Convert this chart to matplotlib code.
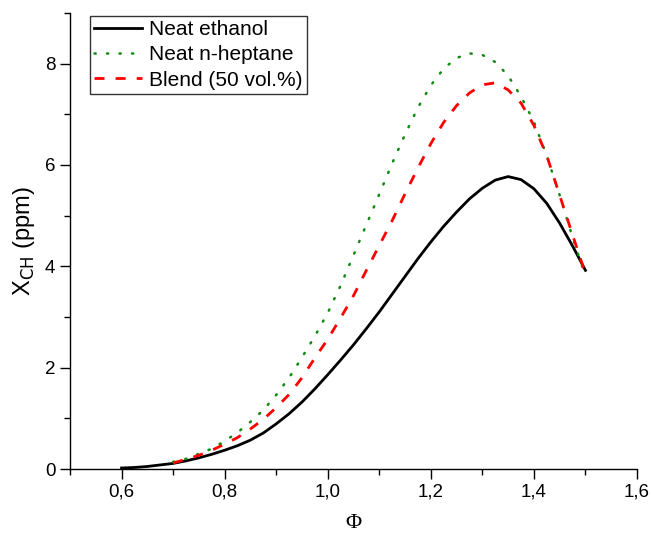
import matplotlib
matplotlib.use("Agg")
import matplotlib.pyplot as plt
from matplotlib.ticker import MultipleLocator, FuncFormatter

# equivalence ratio grids
phi_ethanol = [0.600, 0.625, 0.650, 0.675, 0.700, 0.725, 0.750, 0.775, 0.800,
               0.825, 0.850, 0.875, 0.900, 0.925, 0.950, 0.975, 1.000, 1.025,
               1.050, 1.075, 1.100, 1.125, 1.150, 1.175, 1.200, 1.225, 1.250,
               1.275, 1.300, 1.325, 1.350, 1.375, 1.400, 1.425, 1.450, 1.475,
               1.500]
phi_fuel = [0.700, 0.725, 0.750, 0.775, 0.800, 0.825, 0.850, 0.875, 0.900,
            0.925, 0.950, 0.975, 1.000, 1.025, 1.050, 1.075, 1.100, 1.125,
            1.150, 1.175, 1.200, 1.225, 1.250, 1.275, 1.300, 1.325, 1.350,
            1.375, 1.400, 1.425, 1.450, 1.475, 1.500]

# X_CH (ppm)
x_ethanol = [0.02, 0.03, 0.05, 0.08, 0.11, 0.16, 0.22, 0.29, 0.37,
             0.46, 0.57, 0.71, 0.89, 1.09, 1.32, 1.58, 1.86, 2.15,
             2.45, 2.77, 3.10, 3.45, 3.80, 4.15, 4.48, 4.79, 5.07,
             5.33, 5.54, 5.70, 5.77, 5.71, 5.53, 5.24, 4.85, 4.40,
             3.92]
x_heptane = [0.14, 0.20, 0.30, 0.40, 0.55, 0.72, 0.93, 1.16, 1.46,
             1.80, 2.20, 2.62, 3.08, 3.62, 4.22, 4.82, 5.42, 6.03,
             6.60, 7.13, 7.57, 7.90, 8.11, 8.20, 8.17, 8.03, 7.76,
             7.35, 6.85, 6.18, 5.40, 4.57, 3.80]
x_blend = [0.12, 0.19, 0.27, 0.37, 0.49, 0.62, 0.79, 0.98, 1.21,
           1.47, 1.80, 2.19, 2.56, 2.98, 3.42, 3.92, 4.41, 4.90,
           5.43, 5.94, 6.42, 6.84, 7.17, 7.42, 7.58, 7.62, 7.48,
           7.22, 6.78, 6.18, 5.40, 4.62, 3.85]

plt.rcParams['font.family'] = ['Liberation Sans', 'DejaVu Sans']


def comma(v, pos):
    return "{:.1f}".format(v).replace('.', ',')


def main():
    fig = plt.figure(figsize=(6.51, 5.36), dpi=100)
    ax = fig.add_axes([0.1075, 0.125, 0.871, 0.851])

    ax.plot(phi_ethanol, x_ethanol, color='black', lw=2.0,
            label='Neat ethanol')
    ax.plot(phi_fuel, x_heptane, color='#108a10', lw=1.8,
            linestyle=(0, (0.5, 4.5)), dash_capstyle='round',
            label='Neat n-heptane')
    ax.plot(phi_fuel, x_blend, color='#ff0000', lw=2.0,
            linestyle=(0, (3.6, 4.0)), label='Blend (50 vol.%)')

    ax.set_xlim(0.5, 1.6)
    ax.set_ylim(0, 9)
    ax.xaxis.set_major_locator(MultipleLocator(0.2))
    ax.xaxis.set_minor_locator(MultipleLocator(0.1))
    ax.yaxis.set_major_locator(MultipleLocator(2))
    ax.yaxis.set_minor_locator(MultipleLocator(1))
    ax.xaxis.set_major_formatter(FuncFormatter(comma))
    ax.set_xticks([0.6, 0.8, 1.0, 1.2, 1.4, 1.6])

    for side in ('top', 'right'):
        ax.spines[side].set_visible(False)
    for side in ('left', 'bottom'):
        ax.spines[side].set_linewidth(1.0)
    ax.tick_params(which='major', direction='out', length=7, width=1.0,
                   labelsize=13.5)
    ax.tick_params(which='minor', direction='out', length=4, width=1.0)

    ax.set_ylabel(r'X$_{\mathrm{CH}}$ (ppm)', fontsize=17, labelpad=6)
    ax.set_xlabel('Φ', fontsize=16, family='Liberation Serif', labelpad=10)

    leg = ax.legend(loc='upper left', bbox_to_anchor=(0.03, 1.0),
                    fontsize=15, frameon=True, fancybox=False,
                    edgecolor='black', handlelength=2.3, handletextpad=0.33,
                    borderpad=0.2, labelspacing=0.3, borderaxespad=0.15)
    leg.get_frame().set_linewidth(1.0)

    fig.savefig('out.png', dpi=100)


if __name__ == '__main__':
    main()
